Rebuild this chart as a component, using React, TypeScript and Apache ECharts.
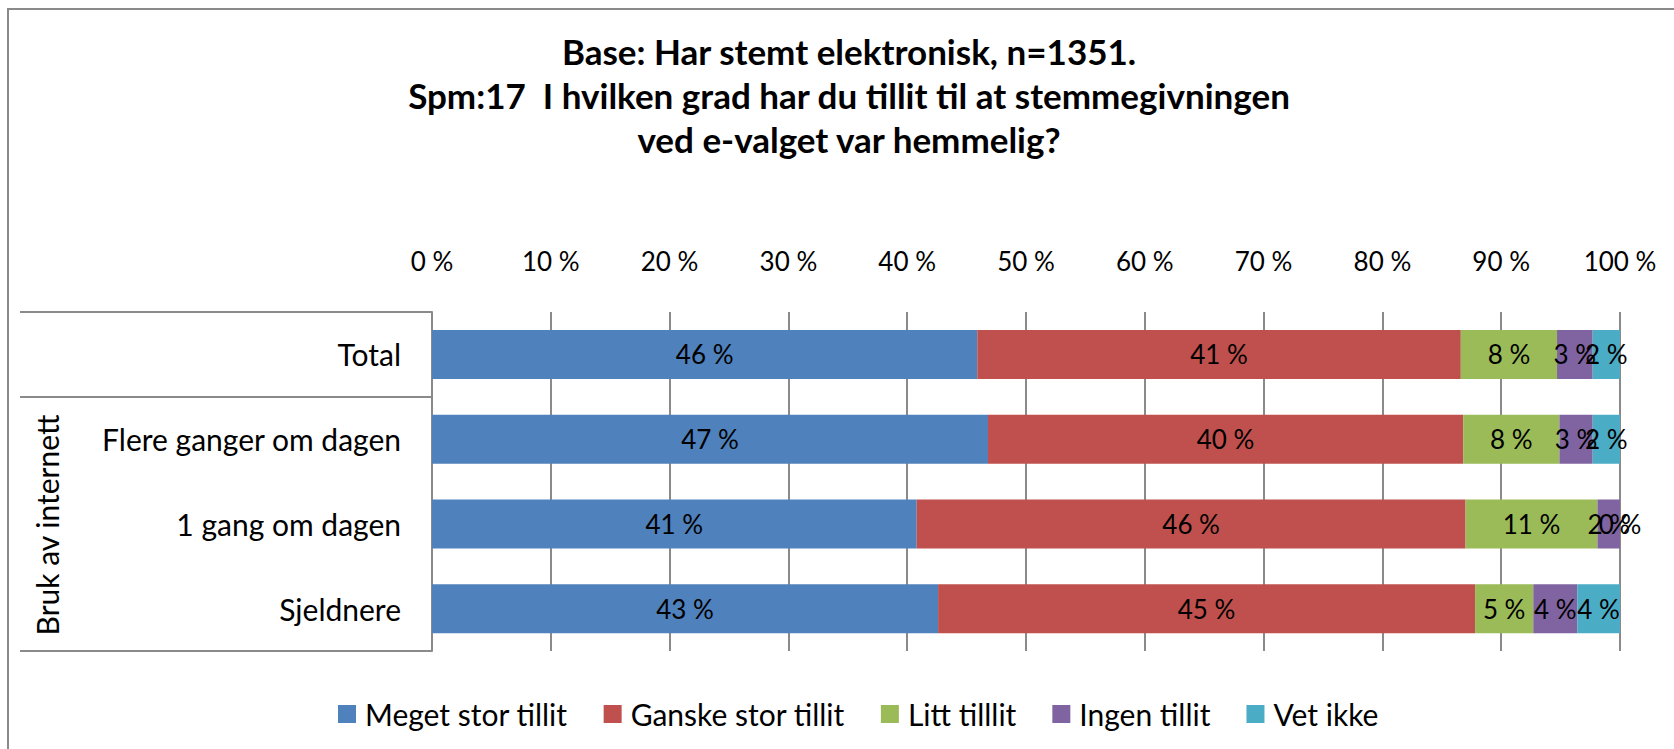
import React, { useEffect, useRef } from "react";
import * as echarts from "echarts";

const categories = ["Total", "Flere ganger om dagen", "1 gang om dagen", "Sjeldnere"];
const seriesNames = ["Meget stor tillit", "Ganske stor tillit", "Litt tilllit", "Ingen tillit", "Vet ikke"];
const megetStor = [45.9, 46.8, 40.8, 42.6];
const ganskeStor = [40.7, 40.0, 46.2, 45.2];
const litt = [8.1, 8.1, 11.1, 4.9];
const ingen = [3.0, 2.8, 1.9, 3.7];
const vetIkke = [2.3, 2.3, 0.0, 3.6];
const colors = ["#4F81BD", "#C0504D", "#9BBB59", "#8064A2", "#4BACC6"];
const titleLines = [
  "Base: Har stemt elektronisk, n=1351.",
  "Spm:17  I hvilken grad har du tillit til at stemmegivningen",
  "ved e-valget var hemmelig?",
];
const groupLabel = "Bruk av internett";

export default function App() {
  const ref = useRef<HTMLDivElement>(null);
  useEffect(() => {
    if (!ref.current) return;
    const chart = echarts.init(ref.current, undefined, { renderer: "svg" });
    const values = [megetStor, ganskeStor, litt, ingen, vetIkke];
    const gray = "#8a8a8a";
    chart.setOption({
      animation: false,
      textStyle: { fontFamily: "Lato" },
      title: {
        text: titleLines.join("\n"),
        left: 849,
        textAlign: "center",
        top: 29,
        padding: 0,
        textStyle: { fontFamily: "Lato", fontWeight: "bold", fontSize: 35, lineHeight: 44, color: "#000" },
      },
      legend: {
        left: 333,
        top: 694,
        itemWidth: 18,
        itemHeight: 18,
        itemGap: 36,
        icon: "rect",
        data: seriesNames,
        textStyle: { fontFamily: "Lato", fontSize: 30, color: "#000", padding: [0, 0, 0, 4] },
      },
      grid: { left: 432, right: 54, top: 312, bottom: 98, containLabel: false },
      xAxis: {
        type: "value",
        position: "top",
        min: 0,
        max: 100,
        interval: 10,
        axisLine: { show: false },
        axisTick: { show: false },
        axisLabel: { formatter: "{value} %", fontSize: 26, color: "#000", margin: 38, fontFamily: "Lato" },
        splitLine: { show: true, lineStyle: { color: gray, width: 2 } },
      },
      yAxis: {
        type: "category",
        inverse: true,
        data: categories,
        axisLine: { show: true, lineStyle: { color: gray, width: 2 } },
        axisTick: { show: false },
        axisLabel: { fontSize: 30, color: "#000", margin: 31, fontFamily: "Lato" },
      },
      series: seriesNames.map((name, i) => ({
        name,
        type: "bar",
        stack: "all",
        barWidth: 49,
        data: values[i],
        itemStyle: { color: colors[i] },
        label: {
          show: true,
          position: "inside",
          fontSize: 26,
          fontFamily: "Lato",
          color: "#000",
          formatter: (p: any) => Math.round(p.value) + " %",
        },
      })),
      graphic: [
        {
          type: "rect",
          silent: true,
          shape: { x: 8, y: 9, width: 2000, height: 2000 },
          style: { fill: "none", stroke: gray, lineWidth: 2 },
        },
        { type: "line", shape: { x1: 20, y1: 312, x2: 432, y2: 312 }, style: { stroke: gray, lineWidth: 2 } },
        { type: "line", shape: { x1: 20, y1: 397, x2: 432, y2: 397 }, style: { stroke: gray, lineWidth: 2 } },
        { type: "line", shape: { x1: 20, y1: 651, x2: 432, y2: 651 }, style: { stroke: gray, lineWidth: 2 } },
        {
          type: "text",
          x: 47,
          y: 525,
          rotation: Math.PI / 2,
          style: {
            text: groupLabel,
            fontSize: 30,
            fontFamily: "Lato",
            fill: "#000",
            align: "center",
            verticalAlign: "middle",
          },
        },
      ],
    });
    return () => chart.dispose();
  }, []);
  return (
    <div
      ref={ref}
      style={{ position: "fixed", left: 0, top: 0, width: 1674, height: 749, background: "#fff" }}
    />
  );
}
